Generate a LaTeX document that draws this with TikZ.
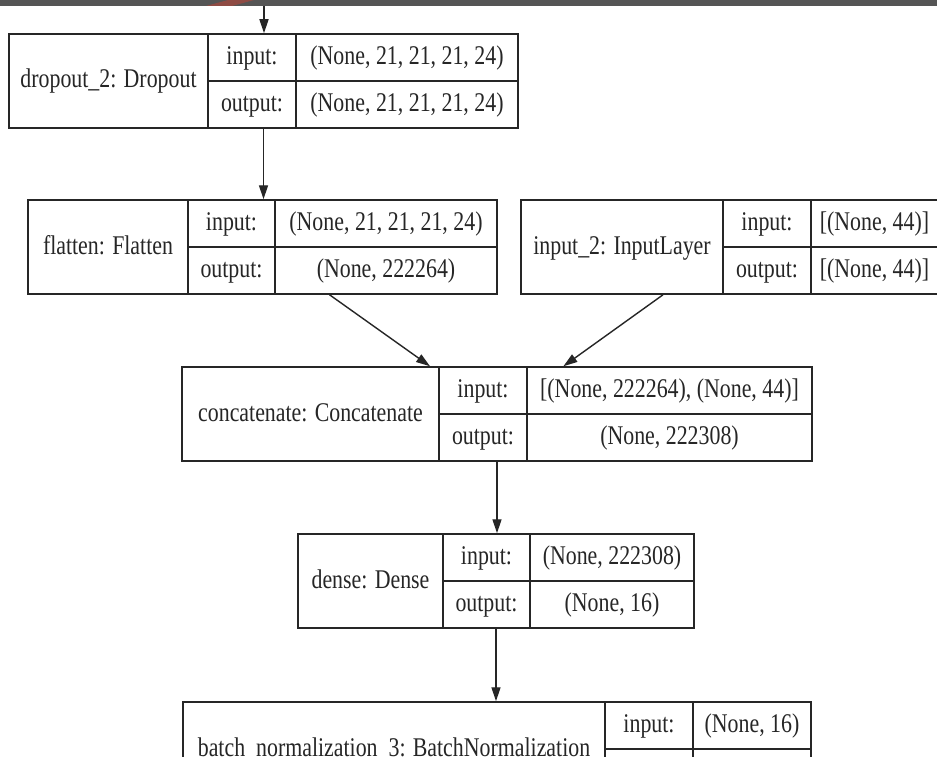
\documentclass[tikz,border=0pt]{standalone}
\usepackage{fontspec}
\setmainfont[FakeStretch=0.81]{Liberation Serif}
\usetikzlibrary{arrows.meta}

\definecolor{ink}{HTML}{262626}
\definecolor{band}{HTML}{555555}
\definecolor{streak}{HTML}{9A4A42}

% One Keras layer record: name | input:/output: | shapes
% #1 node name, #2 left, #3 right, #4 top, #5 first divider, #6 second divider,
% #7 layer label, #8 input shape, #9 output shape
\newcommand\kerasrecord[9]{%
  \node[recbox, minimum width={#3-#2}] (#1) at ({(#2+#3)/2},{#4+47}) {};
  \draw[recline] (#5,#4) -- (#5,{#4+94});
  \draw[recline] (#6,#4) -- (#6,{#4+94});
  \draw[recline] (#5,{#4+47}) -- (#3,{#4+47});
  \node[txt] (#1-name)   at ({(#2+#5)/2},{#4+47})   {#7};
  \node[txt] (#1-inlbl)  at ({(#5+#6)/2},{#4+23.5}) {input:};
  \node[txt] (#1-outlbl) at ({(#5+#6)/2},{#4+70.5}) {output:};
  \node[txt] (#1-inval)  at ({(#6+#3)/2},{#4+23.5}) {#8};
  \node[txt] (#1-outval) at ({(#6+#3)/2},{#4+70.5}) {#9};
}

\begin{document}
\begin{tikzpicture}[x=1pt,y=-1pt,
  recbox/.style={draw=ink, line width=1.5pt, inner sep=0pt, minimum height=94pt},
  recline/.style={draw=ink, line width=1.5pt},
  txt/.style={inner sep=0pt, text height=19pt, text depth=5pt,
              font=\fontsize{27}{30}\selectfont, text=ink},
  link/.style={draw=ink, line width=1.4pt, -{Triangle[length=14pt,width=9pt]}}
]
\useasboundingbox (0,0) rectangle (937,757);
\clip (0,0) rectangle (937,757);
\fill[white] (0,0) rectangle (937,757);

% layer records
\kerasrecord{dropout}{9}{518}{34}{208}{296}{dropout\_2: Dropout}{(None, 21, 21, 21, 24)}{(None, 21, 21, 21, 24)}
\kerasrecord{flatten}{28}{497}{200}{188}{275}{flatten: Flatten}{(None, 21, 21, 21, 24)}{(None, 222264)}
\kerasrecord{input2}{521}{938}{200}{723}{811}{input\_2: InputLayer}{[(None, 44)]}{[(None, 44)]}
\kerasrecord{concat}{182}{812}{367}{439}{527}{concatenate: Concatenate}{[(None, 222264), (None, 44)]}{(None, 222308)}
\kerasrecord{dense}{298}{694}{534}{443}{530}{dense: Dense}{(None, 222308)}{(None, 16)}
\kerasrecord{batchnorm}{183}{811}{702}{605}{693}{batch\_normalization\_3: BatchNormalization}{(None, 16)}{(None, 16)}

% connectors
\coordinate (feed) at (264,4);
\draw[link] (feed) -- (feed |- dropout.north);
\draw[link] (dropout.south) -- (dropout.south |- flatten.north);
\draw[link] (flatten) -- (concat);
\draw[link] (input2) -- (concat);
\draw[link] (concat.south) -- (concat.south |- dense.north);
\draw[link] (dense.south) -- (dense.south |- batchnorm.north);

% dark window strip along the top edge
\fill[band] (0,0) rectangle (937,6);
\fill[streak, opacity=0.85] (206,6) -- (232,6) -- (254,0) -- (228,0) -- cycle;
\end{tikzpicture}
\end{document}
